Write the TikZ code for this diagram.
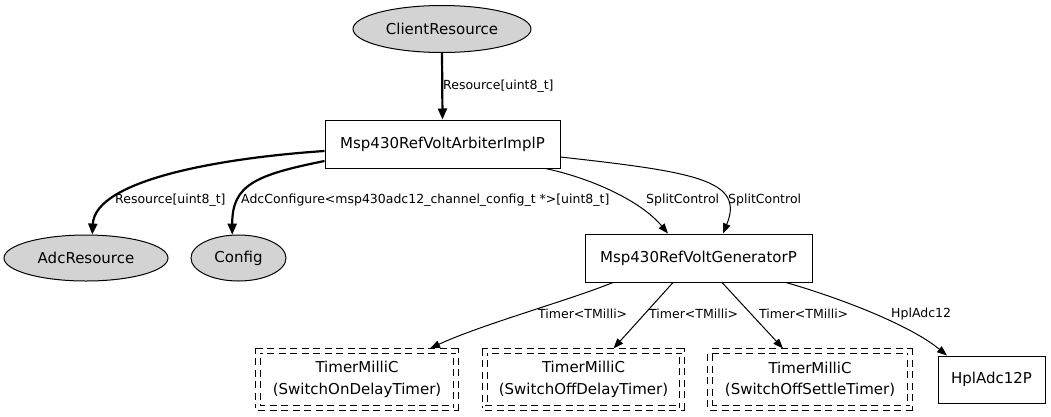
\documentclass[tikz,border=0pt]{standalone}
\usepackage{fontspec}
\setmainfont{DejaVu Sans}
\usetikzlibrary{arrows.meta, shapes.geometric}
\definecolor{ncgray}{HTML}{D3D3D3}

\begin{document}
\begin{tikzpicture}[
  x=1pt, y=-1pt,
  line join=miter,
  modbox/.style={draw, line width=1pt, rectangle, inner sep=0pt,
                 font=\fontsize{15}{18}\selectfont},
  ifell/.style={draw, line width=1pt, ellipse, fill=ncgray, inner sep=0pt,
                font=\fontsize{15}{18}\selectfont},
  timerbox/.style={draw, line width=1.1pt, double, double distance=3.6pt,
                   dash pattern=on 7pt off 4.5pt, align=center, inner sep=0pt,
                   minimum height=57pt, font=\fontsize{15}{21.5}\selectfont},
  lbl/.style={anchor=west, inner sep=0pt, font=\fontsize{12.5}{15}\selectfont},
  wire/.style={line width=1pt, -{Triangle[length=10pt,width=7.5pt]}},
  boldwire/.style={line width=2.2pt, -{Triangle[length=11pt,width=9pt]}},
]
\path[use as bounding box] (0,0) rectangle (1051,416);

% interfaces and modules
\node[ifell, minimum width=178pt, minimum height=47pt] (client) at (442,29) {ClientResource};
\node[modbox, minimum width=235pt, minimum height=48pt] (arbiter) at (442.5,144) {Msp430RefVoltArbiterImplP};
\node[ifell, minimum width=164pt, minimum height=46pt] (adcres) at (86,258) {AdcResource};
\node[ifell, minimum width=95pt, minimum height=46pt] (config) at (238.5,258) {Config};
\node[modbox, minimum width=227pt, minimum height=48pt] (gen) at (698.5,258) {Msp430RefVoltGeneratorP};

% timers and hpl
\node[timerbox, minimum width=198pt] (tOn) at (357,379.5) {TimerMilliC\\(SwitchOnDelayTimer)};
\node[timerbox, minimum width=197pt] (tOff) at (583.5,379.5) {TimerMilliC\\(SwitchOffDelayTimer)};
\node[timerbox, minimum width=200pt] (tSettle) at (810,379.5) {TimerMilliC\\(SwitchOffSettleTimer)};
\node[modbox, minimum width=107pt, minimum height=47pt] (hpl) at (991.5,379.5) {HplAdc12P};

% arbiter wiring
\draw[boldwire] (client.south) -- (arbiter.north);
\node[lbl] (lClient) at (443,86) {Resource[uint8\_t]};
\draw[boldwire] ([yshift=-7pt]arbiter.west) .. controls (220,158) and (95,180) .. (adcres.75);
\node[lbl] (lAdcres) at (115,200) {Resource[uint8\_t]};
\draw[boldwire] ([yshift=-17pt]arbiter.west) .. controls (255,175) and (232,185) .. (config.105);
\node[lbl] (lConfig) at (241,200) {AdcConfigure<msp430adc12\_channel\_config\_t *>[uint8\_t]};
\draw[wire] ([xshift=-15pt]arbiter.south east) .. controls (590,178) and (640,200) .. ([xshift=-30.5pt]gen.north);
\node[lbl] (lSplitA) at (646,200) {SplitControl};
\draw[wire] ([yshift=-13pt]arbiter.east) .. controls (695,172) and (745,180) .. ([xshift=24.5pt]gen.north);
\node[lbl] (lSplitB) at (728,200) {SplitControl};

% generator wiring
\draw[wire] ([xshift=-85.5pt]gen.south) .. controls (570,300) and (480,325) .. ([xshift=73pt, yshift=2pt]tOn.north);
\node[lbl] (lOn) at (538,314) {Timer<TMilli>};
\draw[wire] ([xshift=-25.5pt]gen.south) -- ([xshift=30pt, yshift=2pt]tOff.north);
\node[lbl] (lOff) at (649,314) {Timer<TMilli>};
\draw[wire] ([xshift=23.5pt]gen.south) -- ([xshift=-27pt, yshift=2pt]tSettle.north);
\node[lbl] (lSettle) at (759,314) {Timer<TMilli>};
\draw[wire] ([xshift=87.5pt]gen.south) .. controls (840,298) and (910,325) .. ([xshift=-44.5pt]hpl.north);
\node[lbl] (lHpl) at (891,314) {HplAdc12};
\end{tikzpicture}
\end{document}
